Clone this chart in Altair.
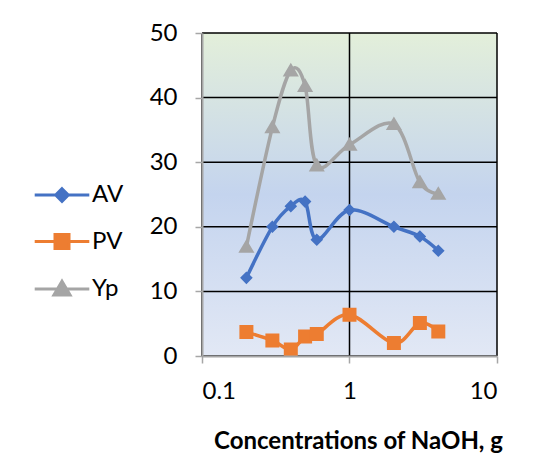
import altair as alt
import pandas as pd

# ---- data ----
conc = [0.2, 0.3, 0.4, 0.5, 0.6, 1, 2, 3, 4]
av = [12.1, 20.0, 23.2, 23.9, 18.0, 22.6, 20.0, 18.5, 16.3]
pv = [3.7, 2.4, 1.0, 3.0, 3.4, 6.4, 2.0, 5.1, 3.8]
yp = [16.9, 35.4, 44.2, 41.8, 29.5, 32.7, 35.9, 26.9, 25.1]
series_names = ["AV", "PV", "Yp"]
series_colors = ["#4472C4", "#ED7D31", "#A5A5A5"]
x_ticks = [0.1, 1, 10]
y_ticks = [0, 10, 20, 30, 40, 50]

rows = []
for name, vals in zip(series_names, [av, pv, yp]):
    for c, v in zip(conc, vals):
        rows.append({"conc": c, "value": v, "series": name})
df = pd.DataFrame(rows)

W, H = 295, 323
FONT = "Lato"
FS = 24

shape_paths = [
    "M-3.9,0H3.9M0,-0.9L0.9,0L0,0.9L-0.9,0Z",
    "M-3.9,0H3.9M-1,-1H1V1H-1Z",
    "M-3.9,0H3.9M0,-1.1L1.15,0.85H-1.15Z",
]

xscale = alt.Scale(type="log", domain=[0.1, 10])
yscale = alt.Scale(domain=[0, 50], nice=False)
color_scale = alt.Scale(domain=series_names, range=series_colors)
shape_scale = alt.Scale(domain=series_names, range=shape_paths)

xaxis = alt.Axis(values=x_ticks, title="Concentrations of NaOH, g", format="~g",
                 labelFontSize=FS, titleFontSize=FS, titleFontWeight="bold",
                 labelPadding=16, titlePadding=26, titleX=156, grid=False, zindex=1)
yaxis = alt.Axis(values=y_ticks, title=None, labelFontSize=FS, labelPadding=18,
                 grid=False, zindex=1)

bg = alt.Chart(alt.Data(values=[{}])).mark_rect(
    fill=alt.LinearGradient(
        gradient="linear",
        stops=[
            alt.GradientStop(color="#E3EFDA", offset=0),
            alt.GradientStop(color="#C4D4EE", offset=0.5),
            alt.GradientStop(color="#E2E8F5", offset=1),
        ],
        x1=0, x2=0, y1=0, y2=1,
    )
).encode(x=alt.value(0), x2=alt.value(W), y=alt.value(0), y2=alt.value(H))

ygrid = alt.Chart(pd.DataFrame({"value": y_ticks})).mark_rule(
    color="#000000", strokeWidth=1.5
).encode(y=alt.Y("value:Q", scale=yscale, axis=yaxis))

xgrid = alt.Chart(pd.DataFrame({"conc": x_ticks})).mark_rule(
    color="#000000", strokeWidth=1.5
).encode(x=alt.X("conc:Q", scale=xscale, axis=xaxis))

base = alt.Chart(df).encode(
    x=alt.X("conc:Q", scale=xscale, axis=xaxis),
    y=alt.Y("value:Q", scale=yscale, axis=yaxis),
)

legend = alt.Legend(
    title=None, orient="none", legendX=-152, legendY=150,
    labelFontSize=FS, symbolSize=196, labelOffset=18, symbolStrokeWidth=3,
)

legend_layer = base.transform_filter("false").mark_point(
    filled=True, size=196, strokeWidth=3, opacity=1
).encode(
    color=alt.Color("series:N", scale=color_scale, legend=legend),
    stroke=alt.Stroke("series:N", scale=color_scale, legend=legend),
    shape=alt.Shape("series:N", scale=shape_scale, legend=legend),
)

lines = base.mark_line(interpolate="cardinal", strokeWidth=3.5).encode(
    color=alt.Color("series:N", scale=color_scale, legend=None)
)

points = base.mark_point(filled=True, size=196, opacity=1).encode(
    color=alt.Color("series:N", scale=color_scale, legend=None),
    shape=alt.Shape("series:N", scale=shape_scale, legend=None),
)

chart = alt.layer(bg, legend_layer, ygrid, xgrid, lines, points).properties(
    width=W, height=H,
    autosize=alt.AutoSizeParams(type="none"),
    padding={"left": 194, "top": 25, "right": 34, "bottom": 112},
).configure_view(stroke=None).configure_axis(
    labelFont=FONT, titleFont=FONT, labelColor="#000000", titleColor="#000000",
    domainColor="#A6A6A6", domainWidth=2,
    tickColor="#A6A6A6", tickWidth=1.5, tickSize=7,
).configure_legend(labelFont=FONT, labelColor="#000000", rowPadding=20.5)

chart.save("out.html", embed_options={"renderer": "svg", "actions": False})
